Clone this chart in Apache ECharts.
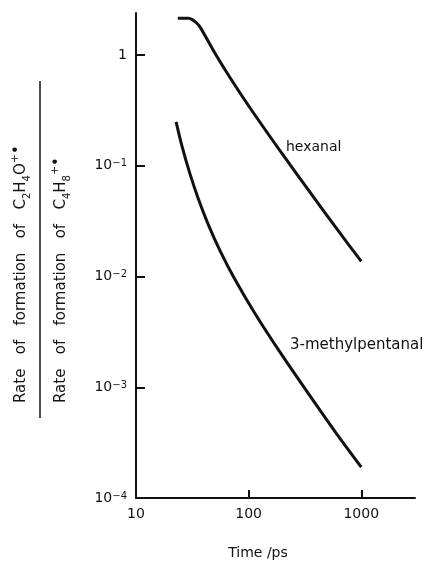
<!DOCTYPE html>
<html>
<head>
<meta charset="utf-8">
<script src="https://cdn.jsdelivr.net/npm/echarts@6/dist/echarts.min.js"></script>
<style>
  html, body { margin: 0; padding: 0; background: #ffffff; }
  #chart { width: 433px; height: 563px; }
</style>
</head>
<body>
<div id="chart"></div>
<script>
// ---- data ----
const hexanalTime = [23.5, 29.2, 32.1, 34.2, 37.1, 50.4, 68.5, 103.1, 190.5, 374.5, 612, 1000];
const hexanalRatio = [2.15, 2.15, 2.07, 1.97, 1.79, 1.034, 0.625, 0.333, 0.1364, 0.0527, 0.02666, 0.0137];

const methylTime = [22.7, 25.6, 30.2, 35.8, 43.65, 55.8, 75.9, 114.2, 190.5, 352, 587, 1000];
const methylRatio = [0.2493, 0.1507, 0.0841, 0.0502, 0.02977, 0.01708, 0.00934, 0.00461, 0.002064, 0.000831, 0.000396, 0.00019];

const xTickValues = [100, 1000];
const xLabelValues = [10, 100, 1000];
const yTickValues = [0.001, 0.01, 0.1, 1];
const yLabelValues = [0.0001, 0.001, 0.01, 0.1, 1];

const seriesNames = ['hexanal', '3-methylpentanal'];
const xAxisTitle = 'Time /ps';

function pairs(xs, ys) { return xs.map((x, i) => [x, ys[i]]); }

const FONT = 'DejaVu Sans';
const INK = '#111111';

function yLabel(v) {
  const e = Math.round(Math.log10(v));
  if (e === 0) return '1';
  return '10{sup|\u2212' + (-e) + '}';
}

const chart = echarts.init(document.getElementById('chart'), null, { renderer: 'canvas' });

const titleRich = {
  sub: { fontFamily: FONT, fontSize: 10, fill: INK, verticalAlign: 'bottom', lineHeight: 10 },
  sup: { fontFamily: FONT, fontSize: 11, fill: INK, verticalAlign: 'top', lineHeight: 11 },
  dot: { fontFamily: FONT, fontSize: 15, fill: INK, verticalAlign: 'top', lineHeight: 9 }
};

const option = {
  animation: false,
  backgroundColor: '#ffffff',
  grid: { left: 136, right: 18, top: 13, bottom: 65, containLabel: false },
  xAxis: {
    type: 'log',
    logBase: 10,
    min: 10,
    max: 3000,
    axisLine: { lineStyle: { color: INK, width: 2 } },
    axisTick: { show: true, inside: true, length: 8, lineStyle: { color: INK, width: 2 }, customValues: xTickValues },
    axisLabel: {
      customValues: xLabelValues,
      margin: 9,
      fontFamily: FONT, fontSize: 14, color: INK,
      formatter: v => String(Math.round(v))
    },
    splitLine: { show: false },
    minorTick: { show: false }
  },
  yAxis: {
    type: 'log',
    logBase: 10,
    min: 0.0001,
    max: 2.4,
    axisLine: { lineStyle: { color: INK, width: 2 } },
    axisTick: { show: true, inside: true, length: 9, lineStyle: { color: INK, width: 2 }, customValues: yTickValues },
    axisLabel: {
      customValues: yLabelValues,
      margin: 9,
      fontFamily: FONT, fontSize: 14, color: INK,
      formatter: yLabel,
      rich: {
        sup: { fontFamily: FONT, fontSize: 10, color: INK, verticalAlign: 'top', lineHeight: 10 }
      }
    },
    splitLine: { show: false },
    minorTick: { show: false }
  },
  series: [
    {
      name: seriesNames[0],
      type: 'line',
      data: pairs(hexanalTime, hexanalRatio),
      showSymbol: false,
      smooth: 0.3,
      lineStyle: { color: INK, width: 3 }
    },
    {
      name: seriesNames[1],
      type: 'line',
      data: pairs(methylTime, methylRatio),
      showSymbol: false,
      smooth: 0.3,
      lineStyle: { color: INK, width: 3 }
    }
  ],
  graphic: [
    {
      type: 'text', left: 286, top: 140,
      style: { text: seriesNames[0], fontFamily: FONT, fontSize: 14, fill: INK }
    },
    {
      type: 'text', left: 290, top: 338,
      style: { text: seriesNames[1], fontFamily: FONT, fontSize: 15, fill: INK }
    },
    {
      type: 'text', x: 258, y: 553,
      style: { text: xAxisTitle, fontFamily: FONT, fontSize: 14, fill: INK, textAlign: 'center', textVerticalAlign: 'middle' }
    },
    {
      type: 'line', shape: { x1: 40, y1: 81, x2: 40, y2: 418 },
      style: { stroke: INK, lineWidth: 1.5 }
    },
    {
      type: 'text', x: 21, y: 403, rotation: Math.PI / 2,
      style: {
        text: 'Rate   of   formation   of   C{sub|2}H{sub|4}O{sup|+}{dot|\u2022}',
        fontFamily: FONT, fontSize: 15, fill: INK, lineHeight: 22,
        textAlign: 'left', textVerticalAlign: 'middle',
        rich: titleRich
      }
    },
    {
      type: 'text', x: 61, y: 403, rotation: Math.PI / 2,
      style: {
        text: 'Rate   of   formation   of   C{sub|4}H{sub|8}{sup|+}{dot|\u2022}',
        fontFamily: FONT, fontSize: 15, fill: INK, lineHeight: 22,
        textAlign: 'left', textVerticalAlign: 'middle',
        rich: titleRich
      }
    }
  ]
};

chart.setOption(option);
</script>
</body>
</html>
